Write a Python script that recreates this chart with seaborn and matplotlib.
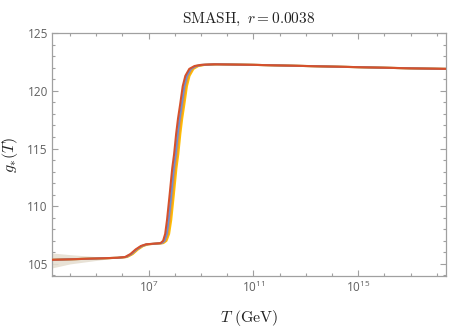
import numpy as np
import pandas as pd
import matplotlib
matplotlib.use("Agg")
import matplotlib.pyplot as plt
import matplotlib.ticker as mticker
import seaborn as sns

# ------------------------------------------------------------------ #
# Data
# ------------------------------------------------------------------ #
# g_* values shared by all curves; each curve has its own log10(T) nodes
g_vals = [105.35, 105.40, 105.47, 105.53, 105.60, 105.85, 106.25, 106.55,
          106.70, 106.75, 106.80, 107.00, 107.60, 108.80, 111.00, 113.30,
          114.50, 116.30, 117.60, 118.80, 120.40, 121.30, 121.90, 122.15,
          122.25, 122.30, 122.25, 122.15, 122.05, 121.95, 121.90]

lgT_red = [3.31, 4.00, 5.00, 5.80, 6.10, 6.30, 6.50, 6.70,
           6.90, 7.20, 7.45, 7.55, 7.63, 7.70, 7.80, 7.90,
           7.97, 8.05, 8.12, 8.20, 8.30, 8.40, 8.55, 8.75,
           9.00, 9.50, 11.0, 13.0, 15.0, 17.0, 18.35]

lgT_blue = [3.31, 4.00, 5.00, 5.82, 6.13, 6.33, 6.53, 6.73,
            6.93, 7.23, 7.49, 7.60, 7.69, 7.76, 7.86, 7.96,
            8.03, 8.11, 8.18, 8.26, 8.36, 8.46, 8.61, 8.80,
            9.05, 9.55, 11.0, 13.0, 15.0, 17.0, 18.35]

lgT_orange = [3.31, 4.00, 5.00, 5.84, 6.15, 6.36, 6.56, 6.76,
              6.96, 7.26, 7.52, 7.64, 7.73, 7.81, 7.91, 8.01,
              8.08, 8.16, 8.23, 8.31, 8.41, 8.51, 8.66, 8.85,
              9.10, 9.60, 11.0, 13.0, 15.0, 17.0, 18.35]

lgT_yellow = [3.31, 4.00, 5.00, 5.86, 6.18, 6.39, 6.59, 6.79,
              6.99, 7.29, 7.56, 7.68, 7.78, 7.86, 7.96, 8.06,
              8.13, 8.21, 8.28, 8.36, 8.46, 8.56, 8.71, 8.90,
              9.15, 9.65, 11.0, 13.0, 15.0, 17.0, 18.35]

# uncertainty band at low temperature
band_lgT   = [3.31, 4.00, 5.00, 5.60, 5.90]
band_upper = [105.95, 105.80, 105.63, 105.55, 105.53]
band_lower = [104.65, 105.00, 105.30, 105.48, 105.52]

curve_names  = ["yellow", "orange", "blue", "red"]
curve_lgT    = [lgT_yellow, lgT_orange, lgT_blue, lgT_red]
curve_colors = ["#ffbf00", "#f09a2a", "#6a90d8", "#d6512b"]

# ------------------------------------------------------------------ #
# Plot
# ------------------------------------------------------------------ #
sns.set_style("ticks")
plt.rcParams["mathtext.fontset"] = "cm"
plt.rcParams["font.family"] = ["Open Sans", "DejaVu Sans"]

frames = []
for name, lg in zip(curve_names, curve_lgT):
    frames.append(pd.DataFrame({"T": 10.0 ** np.array(lg), "g": g_vals, "curve": name}))
df = pd.concat(frames, ignore_index=True)

fig = plt.figure(figsize=(4.5, 3.28), dpi=100)
ax = fig.add_axes([0.1156, 0.1585, 0.8755, 0.7405])

ax.fill_between(10.0 ** np.array(band_lgT), band_lower, band_upper,
                color="#e6dfd2", alpha=0.9, lw=0, zorder=1)

sns.lineplot(data=df, x="T", y="g", hue="curve", hue_order=curve_names,
             palette=dict(zip(curve_names, curve_colors)), lw=1.5,
             legend=False, sort=False, ax=ax, zorder=3)

ax.set_xscale("log")
ax.set_xlim(10 ** 3.31, 10 ** 18.35)
ax.set_ylim(103.95, 125)

ax.xaxis.set_major_locator(mticker.FixedLocator([1e7, 1e11, 1e15]))
ax.xaxis.set_major_formatter(mticker.FuncFormatter(
    lambda v, p: r"$\mathregular{10^{%d}}$" % round(np.log10(v))))
ax.xaxis.set_minor_locator(mticker.FixedLocator([10.0 ** k for k in range(4, 19)]))
ax.xaxis.set_minor_formatter(mticker.NullFormatter())
ax.yaxis.set_major_locator(mticker.MultipleLocator(5))
ax.yaxis.set_minor_locator(mticker.MultipleLocator(1))

for s in ax.spines.values():
    s.set_color("#a0a0a0")
    s.set_linewidth(0.9)
ax.tick_params(which="both", direction="in", top=True, right=True,
               color="#a0a0a0", labelsize=8.5, labelcolor="#606060", width=0.8)
ax.tick_params(which="major", length=4, pad=3)
ax.tick_params(which="minor", length=2.5)

ax.set_title(r"$\mathrm{SMASH},\ r = 0.0038$", fontsize=11, color="#222222", pad=7)
ax.set_xlabel(r"$T\ (\mathrm{GeV})$", fontsize=11.5, color="#222222", labelpad=9)
ax.set_ylabel(r"$g_{*}(T)$", fontsize=11.5, color="#222222", labelpad=5)

plt.savefig("out.png", dpi=100)
plt.close()
